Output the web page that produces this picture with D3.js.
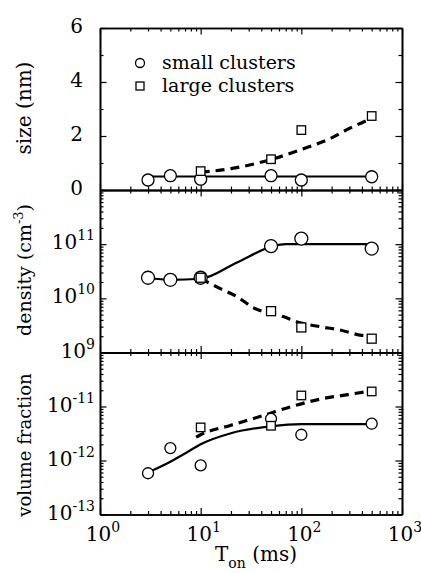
<!DOCTYPE html>
<html>
<head>
<meta charset="utf-8">
<script src="https://cdn.jsdelivr.net/npm/d3@7"></script>
<style>
body { margin: 0; background: #fff; }
svg text { font-family: "DejaVu Serif", serif; fill: #000; }
.axis .domain { stroke: #000; stroke-width: 1.6; }
.axis .tick line { stroke: #000; stroke-width: 1.2; }
</style>
</head>
<body>
<svg id="chart" width="421" height="573"></svg>
<script>
// pulse on-time (ms)
var tPts = [3, 5, 10, 50, 100, 500];
var tLarge = [10, 50, 100, 500];

// size (nm)
var sizeSmall = [0.37, 0.53, 0.40, 0.53, 0.37, 0.49];
var sizeLarge = [0.70, 1.14, 2.22, 2.74];
var sizeSmallFitT = [3, 500];
var sizeSmallFit = [0.50, 0.50];
var sizeLargeFitT = [10, 20, 50, 100, 200, 300, 500];
var sizeLargeFit = [0.66, 0.79, 1.13, 1.50, 1.93, 2.28, 2.65];

// density (cm-3)
var densSmall = [2.4e10, 2.2e10, 2.4e10, 9.2e10, 1.27e11, 8.3e10];
var densLarge = [2.4e10, 5.8e9, 2.9e9, 1.8e9];
var densSmallFitT = [3, 5, 10, 23, 50, 70, 500];
var densSmallFit = [2.4e10, 2.2e10, 2.3e10, 4.6e10, 8.9e10, 1.0e11, 1.0e11];
var densLargeFitT = [10, 15.5, 23, 33, 66, 97, 153, 242, 382, 500];
var densLargeFit = [2.3e10, 1.53e10, 1.07e10, 6.8e9, 4.6e9, 3.55e9, 3.0e9, 2.6e9, 2.1e9, 2.0e9];

// volume fraction
var vfSmall = [5.8e-13, 1.7e-12, 8.1e-13, 5.9e-12, 3.0e-12, 4.8e-12];
var vfLarge = [4.1e-12, 4.4e-12, 1.6e-11, 1.9e-11];
var vfSmallFitT = [3, 5, 7, 10, 20, 50, 100, 500];
var vfSmallFit = [6.0e-13, 9.5e-13, 1.35e-12, 2.0e-12, 3.2e-12, 4.3e-12, 4.7e-12, 4.7e-12];
var vfLargeFitT = [9, 10, 20, 43, 80, 160, 290, 500];
var vfLargeFit = [2.7e-12, 3.0e-12, 4.5e-12, 6.9e-12, 1.0e-11, 1.39e-11, 1.66e-11, 1.95e-11];

// tick labels
var xTickVals = [1, 10, 100, 1000];
var xTickExp = ["0", "1", "2", "3"];
var sizeTickVals = [0, 2, 4, 6];
var densTickVals = [1e9, 1e10, 1e11];
var densTickExp = ["9", "10", "11"];
var vfTickVals = [1e-13, 1e-12, 1e-11];
var vfTickExp = ["-13", "-12", "-11"];

var legendLabels = ["small clusters", "large clusters"];

var svg = d3.select("#chart");
var L = 100, R = 402;
var tops = [28, 190, 352.5, 514.5];

var x = d3.scaleLog().domain([1, 1000]).range([L, R]);
var ySize = d3.scaleLinear().domain([0, 6]).range([tops[1], tops[0]]);
var yDens = d3.scaleLog().domain([1e9, 1e12]).range([tops[2], tops[1]]);
var yVf = d3.scaleLog().domain([1e-13, 1e-10]).range([tops[3], tops[2]]);

function isPow(v) {
	var l = Math.log10(v);
	return Math.abs(l - Math.round(l)) < 1e-6;
}
var xMajor = x.ticks().filter(isPow);
var xMinor = x.ticks().filter(function(d) { return !isPow(d); });

function axisPair(g, axisFn, scale, major, minor, tx, ty) {
	g.append("g").attr("class", "axis").attr("transform", "translate(" + tx + "," + ty + ")")
		.call(axisFn(scale).tickValues(minor).tickSizeInner(-3.5).tickSizeOuter(0).tickFormat(""));
	g.append("g").attr("class", "axis").attr("transform", "translate(" + tx + "," + ty + ")")
		.call(axisFn(scale).tickValues(major).tickSizeInner(-6.5).tickSizeOuter(0).tickFormat(""));
}

function panel(y, yMajor, yMinor, top, bottom) {
	var g = svg.append("g");
	axisPair(g, d3.axisLeft, y, yMajor, yMinor, L, 0);
	axisPair(g, d3.axisRight, y, yMajor, yMinor, R, 0);
	axisPair(g, d3.axisTop, x, xMajor, xMinor, 0, top);
	axisPair(g, d3.axisBottom, x, xMajor, xMinor, 0, bottom);
}

panel(ySize, [0, 2, 4, 6], [1, 3, 5], tops[0], tops[1]);
panel(yDens, yDens.ticks().filter(isPow), yDens.ticks().filter(function(d) { return !isPow(d); }), tops[1], tops[2]);
panel(yVf, yVf.ticks().filter(isPow), yVf.ticks().filter(function(d) { return !isPow(d); }), tops[2], tops[3]);

// curves and markers
function fitLine(ts, vs, y, dashed) {
	var pts = ts.map(function(t, i) { return [x(t), y(vs[i])]; });
	svg.append("path")
		.attr("d", d3.line().curve(d3.curveMonotoneX)(pts))
		.attr("fill", "none")
		.attr("stroke", "#000")
		.attr("stroke-width", dashed ? 3.2 : 2.2)
		.attr("stroke-dasharray", dashed ? "9,6" : null);
}

function circles(ts, vs, y, r) {
	svg.append("g").selectAll("circle")
		.data(ts)
		.enter()
		.append("circle")
		.attr("cx", function(d) { return x(d); })
		.attr("cy", function(d, i) { return y(vs[i]); })
		.attr("r", r)
		.attr("fill", "#fff")
		.attr("stroke", "#000")
		.attr("stroke-width", 1.3);
}

function squares(ts, vs, y, s) {
	svg.append("g").selectAll("rect")
		.data(ts)
		.enter()
		.append("rect")
		.attr("x", function(d) { return x(d) - s / 2; })
		.attr("y", function(d, i) { return y(vs[i]) - s / 2; })
		.attr("width", s)
		.attr("height", s)
		.attr("fill", "#fff")
		.attr("stroke", "#000")
		.attr("stroke-width", 1.3);
}

fitLine(sizeSmallFitT, sizeSmallFit, ySize, false);
fitLine(sizeLargeFitT, sizeLargeFit, ySize, true);
circles(tPts, sizeSmall, ySize, 6);
squares(tLarge, sizeLarge, ySize, 8.5);

fitLine(densSmallFitT, densSmallFit, yDens, false);
fitLine(densLargeFitT, densLargeFit, yDens, true);
circles(tPts, densSmall, yDens, 6.5);
squares(tLarge, densLarge, yDens, 9);

fitLine(vfSmallFitT, vfSmallFit, yVf, false);
fitLine(vfLargeFitT, vfLargeFit, yVf, true);
circles(tPts, vfSmall, yVf, 5.5);
squares(tLarge, vfLarge, yVf, 8.5);

// tick labels
svg.append("g").selectAll("text")
	.data(sizeTickVals)
	.enter()
	.append("text")
	.attr("x", 83)
	.attr("y", function(d) { return ySize(d) + 5; })
	.attr("text-anchor", "end")
	.attr("font-size", "20px")
	.text(function(d) { return d; });

function powLabels(vals, exps, y) {
	var t = svg.append("g").selectAll("text")
		.data(vals)
		.enter()
		.append("text")
		.attr("x", 95)
		.attr("y", function(d) { return y(d) + 5; })
		.attr("text-anchor", "end")
		.attr("font-size", "20px");
	t.append("tspan").text("10");
	t.append("tspan").attr("font-size", "14px").attr("dy", -9).text(function(d, i) { return exps[i]; });
}
powLabels(densTickVals, densTickExp, yDens);
powLabels(vfTickVals, vfTickExp, yVf);

var xl = svg.append("g").selectAll("text")
	.data(xTickVals)
	.enter()
	.append("text")
	.attr("x", function(d) { return x(d) + 3; })
	.attr("y", 541)
	.attr("text-anchor", "middle")
	.attr("font-size", "20px");
xl.append("tspan").text("10");
xl.append("tspan").attr("font-size", "14px").attr("dy", -9).text(function(d, i) { return xTickExp[i]; });

// axis titles
var xt = svg.append("text")
	.attr("x", 256)
	.attr("y", 561)
	.attr("text-anchor", "middle")
	.attr("font-size", "20px");
xt.append("tspan").text("T");
xt.append("tspan").attr("font-size", "14px").attr("dy", 7).text("on");
xt.append("tspan").attr("dy", -7).text(" (ms)");

svg.append("text")
	.attr("transform", "translate(31,108) rotate(-90)")
	.attr("text-anchor", "middle")
	.attr("font-size", "20px")
	.text("size (nm)");

var dt = svg.append("text")
	.attr("transform", "translate(31,270) rotate(-90)")
	.attr("text-anchor", "middle")
	.attr("font-size", "19px");
dt.append("tspan").text("density (cm");
dt.append("tspan").attr("font-size", "13px").attr("dy", -8).text("-3");
dt.append("tspan").attr("dy", 8).text(")");

svg.append("text")
	.attr("transform", "translate(31,445) rotate(-90)")
	.attr("text-anchor", "middle")
	.attr("font-size", "18px")
	.text("volume fraction");

// legend
var leg = svg.append("g");
leg.append("circle").attr("cx", 140).attr("cy", 63).attr("r", 4.5)
	.attr("fill", "#fff").attr("stroke", "#000").attr("stroke-width", 1.3);
leg.append("rect").attr("x", 136).attr("y", 82).attr("width", 8).attr("height", 8)
	.attr("fill", "#fff").attr("stroke", "#000").attr("stroke-width", 1.3);
leg.selectAll("text")
	.data(legendLabels)
	.enter()
	.append("text")
	.attr("x", 162)
	.attr("y", function(d, i) { return 69 + i * 23; })
	.attr("font-size", "19px")
	.text(function(d) { return d; });
</script>
</body>
</html>
